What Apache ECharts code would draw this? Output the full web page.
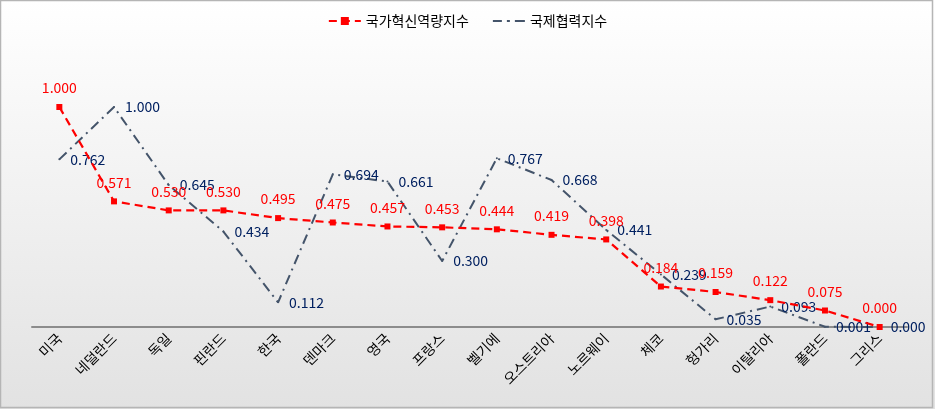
<!DOCTYPE html>
<html><head><meta charset="utf-8">
<script src="https://cdn.jsdelivr.net/npm/echarts@6/dist/echarts.min.js"></script>
<style>html,body{margin:0;padding:0;}#c{width:935px;height:409px;}</style>
</head><body><div id="c"></div>
<script>
const categories = ['미국','네덜란드','독일','핀란드','한국','덴마크','영국','프랑스','벨기에','오스트리아','노르웨이','체코','헝가리','이탈리아','폴란드','그리스'];
const innovation = [1.000,0.571,0.530,0.530,0.495,0.475,0.457,0.453,0.444,0.419,0.398,0.184,0.159,0.122,0.075,0.000];
const cooperation = [0.762,1.000,0.645,0.434,0.112,0.694,0.661,0.300,0.767,0.668,0.441,0.239,0.035,0.093,0.001,0.000];
const seriesNames = ['국가혁신역량지수','국제협력지수'];

const font = '"Noto Sans CJK KR", "Noto Sans", sans-serif';
const chart = echarts.init(document.getElementById('c'));
chart.setOption({
  backgroundColor: {type:'linear',x:0,y:0,x2:0,y2:1,colorStops:[{offset:0,color:'#ffffff'},{offset:1,color:'#e2e2e2'}]},
  animation:false,
  textStyle:{fontFamily:font},
  graphic:[{type:'rect',shape:{x:0.5,y:0.5,width:932,height:407},style:{fill:'none',stroke:'#b5b5b5',lineWidth:1.5},silent:true}],
  legend:{
    top:9, left:'center', itemWidth:32, itemHeight:10, itemGap:24,
    textStyle:{fontSize:14,color:'#000',fontFamily:font},
    data:[{name:seriesNames[0]},{name:seriesNames[1],icon:'path://M0,0h9v2h-9zM14,0h3v2h-3zM22,0h10v2h-10z'}]
  },
  grid:{left:32,right:28,top:107,bottom:82},
  xAxis:{
    type:'category', data:categories, boundaryGap:true,
    axisLine:{lineStyle:{color:'#8c8c8c',width:2}},
    axisTick:{show:false},
    axisLabel:{rotate:45,fontSize:14,color:'#000',fontFamily:font,margin:9,interval:0}
  },
  yAxis:{type:'value',min:0,max:1,show:false,splitLine:{show:false}},
  series:[
    {
      name:seriesNames[0], type:'line', data:innovation,
      symbol:'rect', symbolSize:6,
      itemStyle:{color:'#ff0000'},
      lineStyle:{color:'#ff0000',width:2.2,type:[8,5]},
      label:{show:true,position:'top',distance:9,color:'#ff0000',fontSize:14,fontFamily:font,formatter:p=>p.value.toFixed(3)},
      z:3
    },
    {
      name:seriesNames[1], type:'line', data:cooperation,
      symbol:'circle', symbolSize:2, showSymbol:true,
      itemStyle:{color:'#44546a'},
      lineStyle:{color:'#44546a',width:2,type:[10,5,2,5]},
      label:{show:true,position:'right',distance:10,color:'#002060',fontSize:14,fontFamily:font,formatter:p=>p.value.toFixed(3)},
      z:2
    }
  ]
});
</script></body></html>
